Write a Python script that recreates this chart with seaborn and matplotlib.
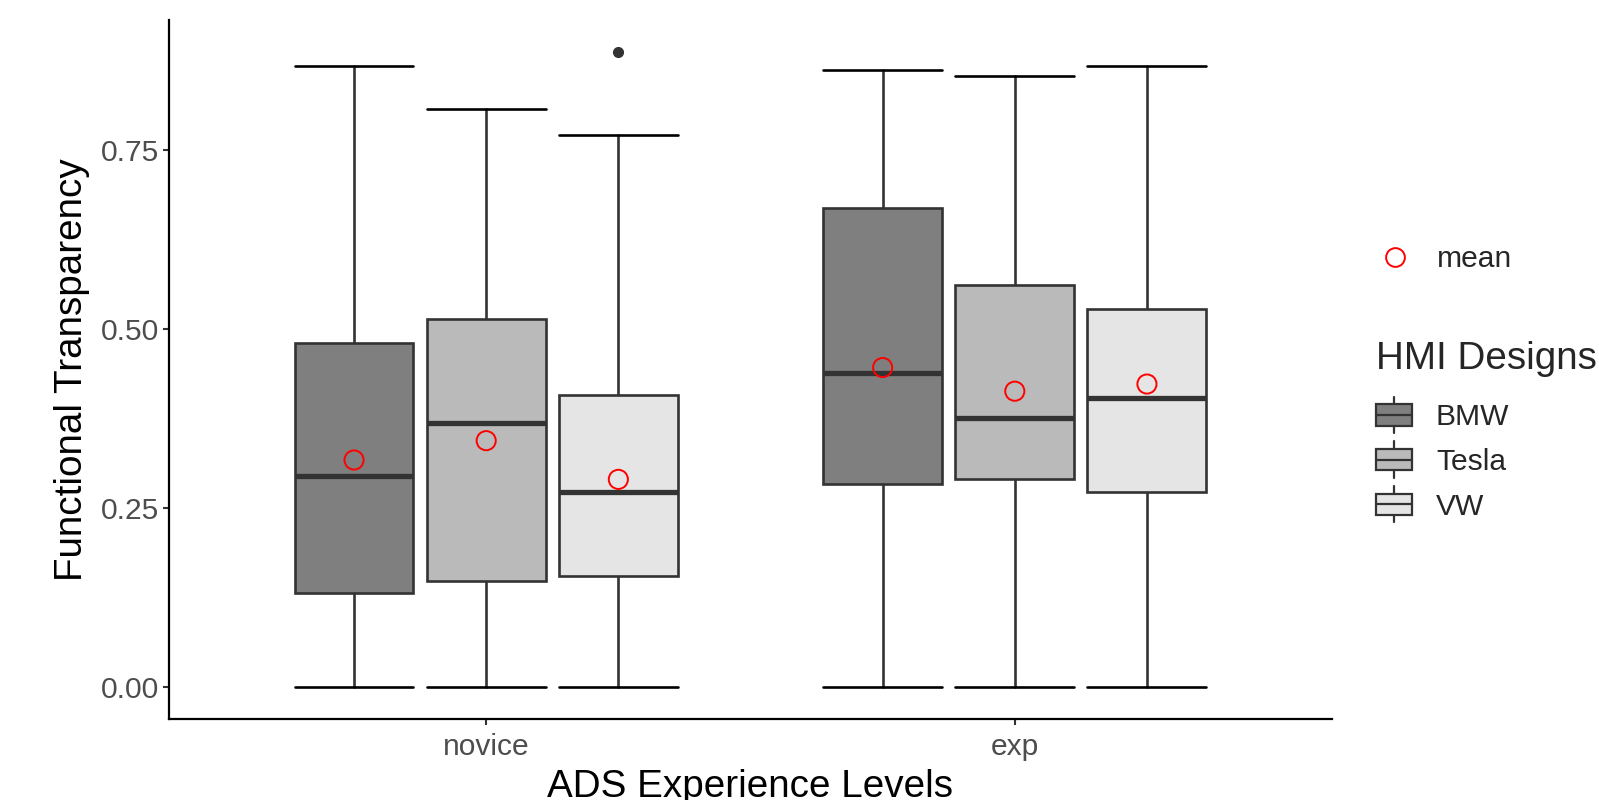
import numpy as np
import pandas as pd
import matplotlib
matplotlib.use("Agg")
import matplotlib.pyplot as plt
from matplotlib.legend_handler import HandlerBase
from matplotlib.patches import Rectangle
from matplotlib.lines import Line2D
import seaborn as sns

# --- values (order: novice BMW/Tesla/VW, exp BMW/Tesla/VW)
levels = ["novice", "exp"]
designs = ["BMW", "Tesla", "VW"]
fills = ["#7f7f7f", "#bababa", "#e5e5e5"]

whisker_low = [0.0, 0.0, 0.0, 0.0, 0.0, 0.0]
q1 = [0.131, 0.148, 0.155, 0.283, 0.290, 0.272]
median = [0.295, 0.368, 0.272, 0.438, 0.376, 0.404]
q3 = [0.480, 0.514, 0.408, 0.669, 0.561, 0.528]
whisker_high = [0.867, 0.806, 0.771, 0.861, 0.853, 0.867]
means = [0.317, 0.344, 0.290, 0.446, 0.413, 0.423]
outliers = [[], [], [0.886], [], [], []]

sns.set_theme(style="ticks")
plt.rcParams["font.family"] = ["Liberation Sans", "DejaVu Sans"]

TXT = 21.6
TTL = 27.8
EDGE = "#333333"
LW = 1.9

fig = plt.figure(figsize=(15.99, 8), dpi=100)
ax = fig.add_axes([0.1057, 0.10125, 0.7273, 0.87325])

# dodge positions within each level
dodge = 0.25
box_w = 0.225
rows = []
for i, lev in enumerate(levels):
    for j, d in enumerate(designs):
        rows.append({"level": lev, "design": d, "pos": i + (j - 1) * dodge})
df = pd.DataFrame(rows)
df["mean"] = means

stats = []
for k in range(len(df)):
    stats.append({"whislo": whisker_low[k], "q1": q1[k], "med": median[k],
                  "q3": q3[k], "whishi": whisker_high[k], "fliers": outliers[k]})

bp = ax.bxp(stats, positions=df["pos"].tolist(), widths=box_w, capwidths=box_w,
            patch_artist=True, showfliers=True, manage_ticks=False,
            boxprops=dict(edgecolor=EDGE, linewidth=LW, zorder=3),
            medianprops=dict(color=EDGE, linewidth=3.8, zorder=4, solid_capstyle="butt"),
            whiskerprops=dict(color=EDGE, linewidth=LW, zorder=2),
            capprops=dict(color="black", linewidth=LW, zorder=2),
            flierprops=dict(marker="o", markerfacecolor=EDGE, markeredgecolor=EDGE,
                            markersize=7))
for k, patch in enumerate(bp["boxes"]):
    patch.set_facecolor(fills[designs.index(df.loc[k, "design"])])

# means
sns.scatterplot(data=df, x="pos", y="mean", ax=ax, marker="o", s=190,
                facecolors="none", edgecolor="red", linewidth=1.4, zorder=5, legend=False)

# axes styling
hi = max(whisker_high + [v for o in outliers for v in o])
pad = 0.05 * hi
ax.set_ylim(-pad, hi + pad)
ax.set_xlim(-0.6, 1.6)
ax.set_xticks(range(len(levels)))
ax.set_xticklabels(levels)
ax.set_yticks([0, 0.25, 0.5, 0.75])
ax.set_yticklabels(["0.00", "0.25", "0.50", "0.75"])
ax.tick_params(axis="both", labelsize=TXT, labelcolor="#4d4d4d", color=EDGE,
               length=4.3, width=1.5, pad=3)
ax.tick_params(axis="x", pad=6)
sns.despine(ax=ax)
for s in ["left", "bottom"]:
    ax.spines[s].set_linewidth(1.6)
    ax.spines[s].set_color("black")

ax.set_xlabel("ADS Experience Levels", fontsize=TTL, color="black")
ax.set_ylabel("Functional Transparency", fontsize=TTL, color="black")
ax.xaxis.set_label_coords(0.5, -0.071)
ax.yaxis.set_label_coords(-0.068, 0.5)


# legend key drawn like a small boxplot
class BoxKey(HandlerBase):
    def create_artists(self, legend, orig_handle, xdescent, ydescent,
                       width, height, fontsize, trans):
        x0, y0 = -xdescent, -ydescent
        cx = x0 + width / 2
        stub = height * 0.35
        wl = Line2D([cx, cx], [y0 - stub, y0 + height + stub], color=EDGE,
                    lw=1.6, transform=trans)
        box = Rectangle((x0, y0), width, height, facecolor=orig_handle.get_facecolor(),
                        edgecolor=EDGE, lw=1.6, transform=trans)
        mid = Line2D([x0, x0 + width], [y0 + height / 2] * 2, color=EDGE,
                     lw=1.6, transform=trans)
        return [wl, box, mid]


mean_handle = Line2D([], [], marker="o", linestyle="none", markersize=13.5,
                     markerfacecolor="none", markeredgecolor="red", markeredgewidth=1.4)
leg1 = fig.legend(handles=[mean_handle], labels=["mean"], loc="center left",
                  bbox_to_anchor=(1377 / 1599, 1 - 259 / 800), frameon=False,
                  fontsize=TXT, handlelength=1.2, handletextpad=0.8, borderpad=0,
                  borderaxespad=0)

box_handles = [Rectangle((0, 0), 1, 1, facecolor=c) for c in fills]
leg2 = fig.legend(handles=box_handles, labels=designs, loc="upper left",
                  bbox_to_anchor=(1376 / 1599, 1 - 341 / 800), frameon=False,
                  fontsize=TXT, title="HMI Designs", title_fontsize=TTL,
                  handler_map={Rectangle: BoxKey()}, handlelength=1.2,
                  handleheight=0.72, handletextpad=0.8, labelspacing=0.556,
                  borderpad=0, borderaxespad=0, alignment="left")
# wider gap between legend title and its keys
leg2._legend_box.sep = 19

fig.savefig("out.png", dpi=100)
